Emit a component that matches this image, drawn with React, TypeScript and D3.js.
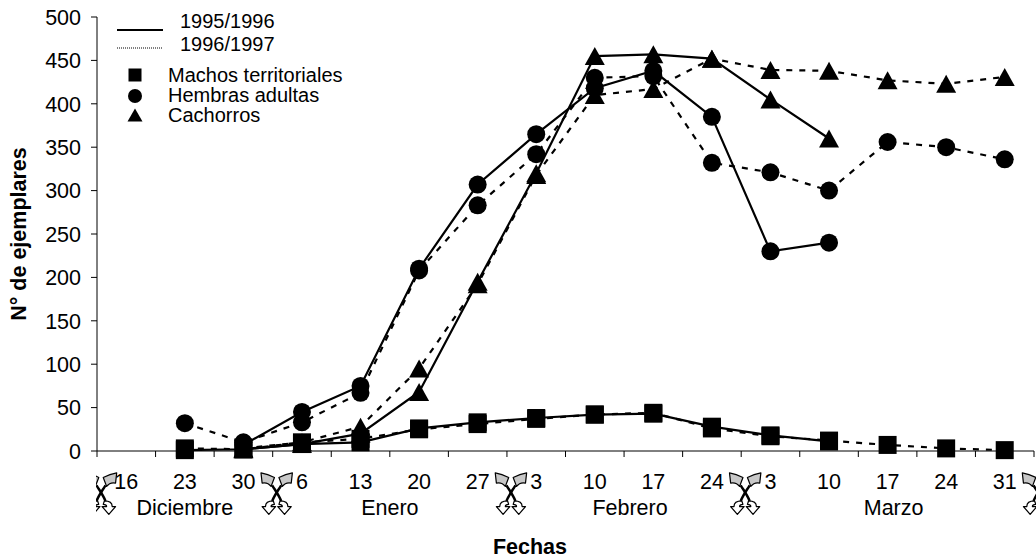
import React from "react";
import * as d3 from "d3";

const categories = ["16", "23", "30", "6", "13", "20", "27", "3", "10", "17", "24", "3", "10", "17", "24", "31"];
const monthNames = ["Diciembre", "Enero", "Febrero", "Marzo"];
const monthStart = [0, 3, 7, 11];
const monthEnd = [2, 6, 10, 15];
const yTicks = [0, 50, 100, 150, 200, 250, 300, 350, 400, 450, 500];

type V = number | null;
// 1995/1996 (solid)
const machos95: V[] = [null, 1, 2, 8, 10, 26, 33, 38, 42, 43, 28, 18, 11, null, null, null];
const hembras95: V[] = [null, null, 7, 45, 75, 210, 307, 365, 418, 438, 385, 230, 240, null, null, null];
const cachorros95: V[] = [null, null, 2, 8, 20, 68, 195, 320, 455, 457, 452, 405, 360, null, null, null];
// 1996/1997 (dashed)
const machos96: V[] = [null, 3, 2, 10, 14, 25, 31, 37, 42, 44, 26, 17, 12, 7, 3, 1];
const hembras96: V[] = [null, 32, 10, 33, 67, 208, 283, 342, 430, 432, 332, 321, 300, 356, 350, 336];
const cachorros96: V[] = [null, null, 3, 10, 28, 95, 192, 318, 410, 417, 452, 439, 438, 427, 423, 431];

const W = 1036;
const H = 559;
const FONT = "'Liberation Sans', Arial, sans-serif";
const FS = 21.5;

const x = d3.scaleBand<number>().domain(d3.range(categories.length)).range([97, 1034]).padding(0);
const cx = (i: number) => (x(i) as number) + x.bandwidth() / 2;
const y = d3.scaleLinear().domain([0, 500]).range([451, 17]);

type Shape = "square" | "circle" | "triangle";

function marker(shape: Shape, px: number, py: number, s: number, key: string) {
  const h = s / 2;
  if (shape === "square") return <rect key={key} x={px - h} y={py - h} width={s} height={s} fill="#000" />;
  if (shape === "circle") return <circle key={key} cx={px} cy={py} r={h} fill="#000" />;
  const p = d3.path();
  p.moveTo(px, py - h);
  p.lineTo(px + h + 1, py + h);
  p.lineTo(px - h - 1, py + h);
  p.closePath();
  return <path key={key} d={p.toString()} fill="#000" />;
}

const series: { data: V[]; shape: Shape; dashed: boolean }[] = [
  { data: machos95, shape: "square", dashed: false },
  { data: hembras95, shape: "circle", dashed: false },
  { data: cachorros95, shape: "triangle", dashed: false },
  { data: machos96, shape: "square", dashed: true },
  { data: hembras96, shape: "circle", dashed: true },
  { data: cachorros96, shape: "triangle", dashed: true },
];

function Glyph({ gx, gy }: { gx: number; gy: number }) {
  const half = (
    <g>
      <path d="M 2,-13 Q 8,-16 14,-17 L 13,-8 Q 8,-9 5,-5 Z" fill="#c8c8c8" stroke="#000" strokeWidth={1.1} strokeLinejoin="round" />
      <path d="M 4,-6 C 1,-1 -2,3 -4,8" fill="none" stroke="#000" strokeWidth={2.2} />
      <path d="M -3,8 Q -10,8 -10,13 L -13,13 L -7,20 L -1,13 L -5,13 Q -5,11 -2,11 Z" fill="#fff" stroke="#000" strokeWidth={1.1} strokeLinejoin="round" />
    </g>
  );
  return (
    <g transform={`translate(${gx},${gy}) scale(1.12)`}>
      {half}
      <g transform="scale(-1,1)">{half}</g>
    </g>
  );
}

export default function App() {
  const line = d3
    .line<V>()
    .defined((d) => d != null)
    .x((_, i) => cx(i))
    .y((d) => y(d as number));

  const boundaries = [0, ...monthStart.slice(1), categories.length].map((i) =>
    i === categories.length ? 1034 : (x(i) as number)
  );

  return (
    <svg width={W} height={H} style={{ position: "absolute", left: 0, top: 0, background: "#fff" }} fontFamily={FONT}>
      <defs>
        <clipPath id="gclip">
          <rect x={96} y={0} width={W - 96} height={H} />
        </clipPath>
      </defs>
      <rect width={W} height={H} fill="#fff" />
      {/* y axis */}
      <line x1={97} x2={97} y1={y(500)} y2={y(0)} stroke="#000" strokeWidth={1} />
      {yTicks.map((t) => (
        <g key={t}>
          <line x1={91} x2={97} y1={y(t)} y2={y(t)} stroke="#000" />
          <text x={81} y={y(t)} dy="0.36em" textAnchor="end" fontSize={FS}>
            {t}
          </text>
        </g>
      ))}
      {/* x axis */}
      <line x1={97} x2={1034} y1={y(0)} y2={y(0)} stroke="#000" />
      {d3.range(categories.length + 1).map((i) => {
        const tx = i === categories.length ? 1034 : (x(i) as number);
        return <line key={i} x1={tx} x2={tx} y1={y(0)} y2={y(0) + 6} stroke="#000" />;
      })}
      {categories.map((c, i) => (
        <text key={i} x={cx(i)} y={489} textAnchor="middle" fontSize={FS}>
          {c}
        </text>
      ))}
      {monthNames.map((m, k) => (
        <text key={m} x={(cx(monthStart[k]) + cx(monthEnd[k])) / 2 + (k >= 2 ? 6 : 0)} y={515} textAnchor="middle" fontSize={FS}>
          {m}
        </text>
      ))}
      <g clipPath="url(#gclip)">
        {boundaries.map((b, k) => (
          <Glyph key={k} gx={b + 4} gy={492} />
        ))}
      </g>
      {/* axis titles */}
      <text x={530} y={554} textAnchor="middle" fontSize={FS} fontWeight="bold">
        Fechas
      </text>
      <text transform={`translate(26,${(y(0) + y(500)) / 2}) rotate(-90)`} textAnchor="middle" fontSize={FS} fontWeight="bold">
        N° de ejemplares
      </text>
      {/* series */}
      {series.map((s, si) => (
        <g key={si}>
          <path
            d={line(s.data) || ""}
            fill="none"
            stroke="#000"
            strokeWidth={2.2}
            strokeDasharray={s.dashed ? "6,7" : undefined}
          />
          {s.data.map((v, i) => (v == null ? null : marker(s.shape, cx(i), y(v), 18, `${si}-${i}`)))}
        </g>
      ))}
      {/* legend */}
      <line x1={117} x2={163} y1={30} y2={30} stroke="#000" strokeWidth={1.8} />
      <text x={180} y={28} fontSize={20}>1995/1996</text>
      <line x1={117} x2={163} y1={48} y2={48} stroke="#000" strokeWidth={1} strokeDasharray="1,1" />
      <text x={180} y={51} fontSize={20}>1996/1997</text>
      {marker("square", 135, 75, 13, "ls")}
      <text x={168} y={82} fontSize={20}>Machos territoriales</text>
      {marker("circle", 135, 96, 14, "lc")}
      <text x={168} y={102} fontSize={20}>Hembras adultas</text>
      {marker("triangle", 135, 115, 13, "lt")}
      <text x={168} y={122} fontSize={20}>Cachorros</text>
    </svg>
  );
}
